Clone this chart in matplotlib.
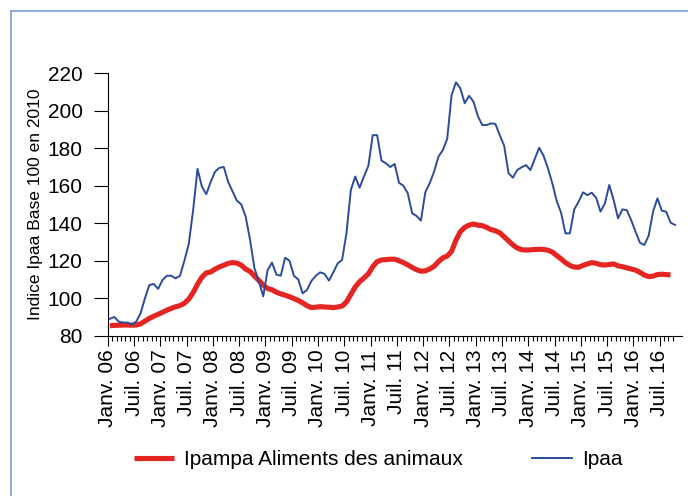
import matplotlib
matplotlib.use("Agg")
import matplotlib.pyplot as plt
from matplotlib.patches import Rectangle
import numpy as np

plt.rcParams['font.family'] = ['Liberation Sans', 'DejaVu Sans']

# Monthly index values, January 2006 onwards
ipaa = [
    89, 90, 87.5, 87, 87, 86, 87.5, 92, 100, 107, 107.6, 105,
    109.7, 112, 112, 110.6, 112, 120, 129, 147, 169, 159.5, 155.5, 162,
    167.5, 169.6, 170, 162, 157, 152, 150, 143.5, 131, 116, 109, 101,
    115, 119, 112.6, 112, 121.6, 120, 112, 110, 102.6, 104.4, 109.2, 112,
    113.8, 113, 109.4, 113.8, 118.6, 120.4, 134.6, 157.7, 164.9, 159, 165, 170.6,
    187, 187, 173.4, 172, 170, 171.6, 161.6, 160, 156, 145.3, 143.9, 141.4,
    156.5, 161.3, 167.5, 175.5, 179, 185, 208.4, 215.2, 212, 204, 208, 204.9,
    197.2, 192.4, 192.4, 193.3, 193, 187, 181.4, 166.7, 164.3, 168.4, 169.9, 171,
    168.4, 174.3, 180.3, 176, 169.3, 161.3, 151.9, 145.6, 134.6, 134.6, 147.4, 151.5,
    156.5, 155, 156.3, 153.6, 146.2, 150.6, 160.4, 152.4, 142.6, 147.4, 147, 141.7,
    135.5, 129.6, 128.4, 133.4, 146.2, 153.3, 146.7, 146.2, 140.3, 139.1,
]

ipampa_aliments = [
    85.3, 85.5, 85.6, 85.7, 85.7, 85.6, 85.7, 86.3, 87.8, 89.2, 90.4, 91.4,
    92.5, 93.6, 94.6, 95.4, 96.1, 97.3, 99.5, 103, 107.5, 111.2, 113.5, 114,
    115.5, 116.7, 117.6, 118.6, 119, 118.7, 117.6, 115.5, 114.3, 111.8, 109.5, 107,
    105.2, 104.5, 103.2, 102.3, 101.6, 100.8, 99.8, 98.8, 97.5, 96, 95, 95.2,
    95.5, 95.3, 95.2, 95, 95.3, 95.8, 98, 102, 106, 108.8, 110.8, 113,
    116.8, 119.5, 120.4, 120.6, 120.8, 120.8, 120, 119, 117.8, 116.4, 115.2, 114.4,
    114.6, 115.6, 117, 119.5, 121.5, 122.5, 125, 131, 135.5, 137.8, 139, 139.6,
    139, 138.7, 137.8, 136.6, 136, 134.9, 132.8, 130.6, 128.4, 126.8, 125.9, 125.7,
    125.8, 126, 126.1, 126, 125.6, 124.6, 122.8, 121, 119, 117.5, 116.6, 116.5,
    117.5, 118.3, 119, 118.6, 117.9, 117.7, 118, 118.3, 117.3, 116.8, 116.2, 115.6,
    115, 113.8, 112.4, 111.5, 111.8, 112.6, 112.8, 112.6, 112.4,
]

years = ["06", "07", "08", "09", "10", "11", "12", "13", "14", "15", "16"]
tick_labels = [f"{m} {y}" for y in years for m in ("Janv.", "Juil.")]

fig = plt.figure(figsize=(6.88, 4.96), dpi=100)
ax = fig.add_axes([0.1566, 0.3232, 0.834, 0.529])

x_ipaa = np.arange(len(ipaa)) + 0.5
x_ipampa = np.arange(len(ipampa_aliments)) + 0.5

ax.plot(x_ipampa, ipampa_aliments, color="#e52521", lw=3.7,
        solid_capstyle="butt", label="Ipampa Aliments des animaux")
ax.plot(x_ipaa, ipaa, color="#2b4c9e", lw=1.4, label="Ipaa")

ax.set_xlim(0, 131)
ax.set_ylim(80, 220)
ax.set_yticks(np.arange(80, 221, 20))
ax.set_xticks(np.arange(0, 6 * len(tick_labels), 6))
ax.set_xticklabels(tick_labels, rotation=90, fontsize=15)
ax.set_xticks(np.arange(0, 130), minor=True)
ax.tick_params(axis="y", labelsize=15, length=10, width=0.8, pad=8)
ax.tick_params(axis="x", which="major", length=7, width=0.8, pad=3)
ax.tick_params(axis="x", which="minor", length=3.6, width=0.8)

for side in ("top", "right"):
    ax.spines[side].set_visible(False)
for side in ("left", "bottom"):
    ax.spines[side].set_linewidth(0.8)

ax.set_ylabel("Indice Ipaa Base 100 en 2010", fontsize=12.5, labelpad=3)

fig.legend(loc="center", bbox_to_anchor=(0.55, 0.0726), ncol=2, frameon=False,
           fontsize=15, handlelength=1.9, handletextpad=0.5,
           columnspacing=3.3)

# Outer frame
fig.patches.append(Rectangle((10.5, -20), 720, 496 - 10.5 + 20,
                             transform=None, fill=False,
                             edgecolor="#7d9bd3", lw=1.2))

fig.savefig("out.png", dpi=100)
